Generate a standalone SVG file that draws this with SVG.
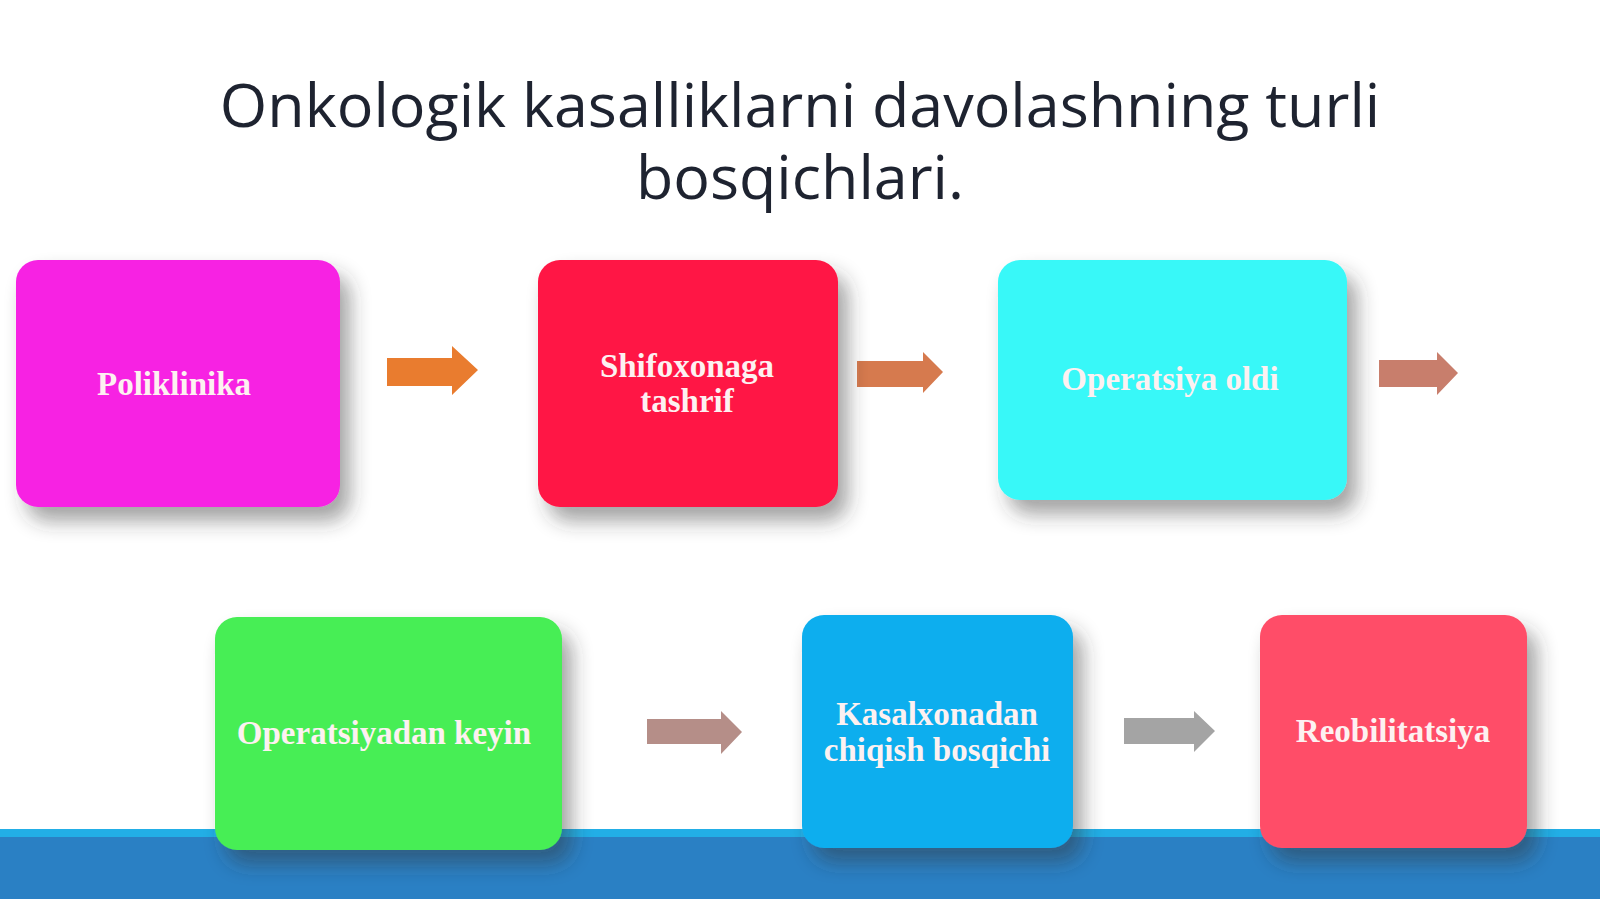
<svg xmlns="http://www.w3.org/2000/svg" width="1600" height="899" viewBox="0 0 1600 899">
<defs>
<filter id="sh" x="-20%" y="-20%" width="150%" height="160%">
<feDropShadow dx="10" dy="14" stdDeviation="10" flood-color="#333" flood-opacity="0.45"/>
</filter>
<style>
.title{font-family:"Open Sans","Noto Sans",sans-serif;font-size:61px;fill:#1E2330;text-anchor:middle}
.lbl{font-family:"Liberation Serif","Times New Roman",serif;font-weight:bold;font-size:33px;fill:#FDF1F1;text-anchor:middle}
.box{filter:url(#sh)}
</style>
</defs>
<rect width="1600" height="899" fill="#FFFFFF"/>
<g id="bottom-bar">
<rect x="0" y="829" width="1600" height="70" fill="#2A80C4"/>
<rect x="0" y="829" width="1600" height="8" fill="#22AEE6"/>
</g>
<g id="title">
<text class="title" x="800" y="127">Onkologik kasalliklarni davolashning turli</text>
<text class="title" x="800" y="199">bosqichlari.</text>
</g>
<g id="connectors">
<polygon points="387,358 452,358 452,346 478,370 452,395 452,386 387,386" fill="#E97C2F"/>
<polygon points="857,361 923,361 923,352 943,372 923,393 923,387 857,387" fill="#D67A4E"/>
<polygon points="1379,360 1437,360 1437,352 1458,373 1437,395 1437,387 1379,387" fill="#C87E6C"/>
<polygon points="647,719 721,719 721,711 742,732 721,754 721,744 647,744" fill="#B58E88"/>
<polygon points="1124,718 1194,718 1194,711 1215,731 1194,752 1194,744 1124,744" fill="#A4A4A4"/>
</g>
<g id="node-poliklinika">
<rect class="box" x="16" y="260" width="324" height="247" rx="22" fill="#F724E3"/>
<text class="lbl" x="174" y="395">Poliklinika</text>
</g>
<g id="node-shifoxonaga">
<rect class="box" x="538" y="260" width="300" height="247" rx="22" fill="#FF1545"/>
<text class="lbl" x="687" y="377">Shifoxonaga</text>
<text class="lbl" x="687" y="412">tashrif</text>
</g>
<g id="node-operatsiya-oldi">
<rect class="box" x="998" y="260" width="349" height="240" rx="22" fill="#38F8F8"/>
<text class="lbl" x="1170" y="390">Operatsiya oldi</text>
</g>
<g id="node-operatsiyadan-keyin">
<rect class="box" x="215" y="617" width="347" height="233" rx="22" fill="#46EE55"/>
<text class="lbl" x="384" y="744">Operatsiyadan keyin</text>
</g>
<g id="node-kasalxonadan">
<rect class="box" x="802" y="615" width="271" height="233" rx="22" fill="#09AEEE"/>
<text class="lbl" x="937" y="725">Kasalxonadan</text>
<text class="lbl" x="937" y="761">chiqish bosqichi</text>
</g>
<g id="node-reobilitatsiya">
<rect class="box" x="1260" y="615" width="267" height="233" rx="22" fill="#FF4E68"/>
<text class="lbl" x="1393" y="742">Reobilitatsiya</text>
</g>
</svg>
